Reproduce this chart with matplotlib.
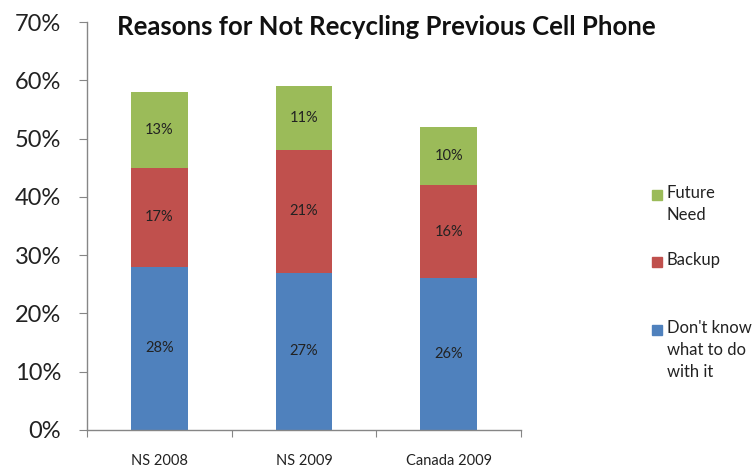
import matplotlib.pyplot as plt
from matplotlib.patches import Rectangle
import numpy as np

categories = ['NS 2008', 'NS 2009', 'Canada 2009']
dont_know = [28, 27, 26]
backup = [17, 21, 16]
future_need = [13, 11, 10]
series_names = ["Don't know\nwhat to do\nwith it", 'Backup', 'Future\nNeed']
yticks = [0, 10, 20, 30, 40, 50, 60, 70]

colors = ['#4F81BD', '#C0504D', '#9BBB59']
font = 'Lato'

fig = plt.figure(figsize=(7.54, 4.69), dpi=100)
ax = fig.add_axes([0.1154, 0.0832, 0.691 - 0.1154, 0.953 - 0.0832])

x = np.arange(len(categories))
bottom = np.zeros(len(categories))
for vals, col in zip([dont_know, backup, future_need], colors):
    ax.bar(x, vals, width=0.39, bottom=bottom, color=col, zorder=2)
    for xi, b, v in zip(x, bottom, vals):
        ax.text(xi, b + v / 2, '{}%'.format(v), ha='center', va='center',
                fontsize=10.5, family=font, color='#222222', zorder=3)
    bottom += np.array(vals)

ax.set_xlim(-0.5, len(categories) - 0.5)
ax.set_ylim(0, 70)
ax.set_yticks(yticks)
ax.set_yticklabels(['{}%'.format(t) for t in yticks], family=font, fontsize=17, color='#222222')
ax.set_xticks(np.arange(len(categories) + 1) - 0.5)
ax.set_xticklabels([])
ax.set_xticks(x, minor=True)
ax.set_xticklabels(categories, minor=True, family=font, fontsize=10.5, color='#222222')
ax.tick_params(axis='x', which='minor', length=0, pad=17)
ax.tick_params(axis='x', which='major', length=5, color='#868686', direction='out')
ax.tick_params(axis='y', length=5.5, color='#868686', pad=13)

for s in ['top', 'right']:
    ax.spines[s].set_visible(False)
for s in ['left', 'bottom']:
    ax.spines[s].set_color('#868686')
    ax.spines[s].set_linewidth(1)

fig.text(0.512, 0.942, 'Reasons for Not Recycling Previous Cell Phone', ha='center', va='center',
         fontsize=18.5, fontweight='bold', family=font, color='#111111')

# legend drawn by hand, entries in reverse stacking order
leg_y = [195, 262, 330]
for name, col, yy in zip(series_names[::-1], colors[::-1], leg_y):
    fig.patches.append(Rectangle((652 / 754, 1 - (yy + 5) / 469), 10 / 754, 10 / 469,
                                 transform=fig.transFigure, color=col))
    fig.text(667 / 754, 1 - (yy - 10) / 469, name, ha='left', va='top', fontsize=12,
             family=font, color='#222222', linespacing=1.45)

fig.savefig('out.png', dpi=100)
